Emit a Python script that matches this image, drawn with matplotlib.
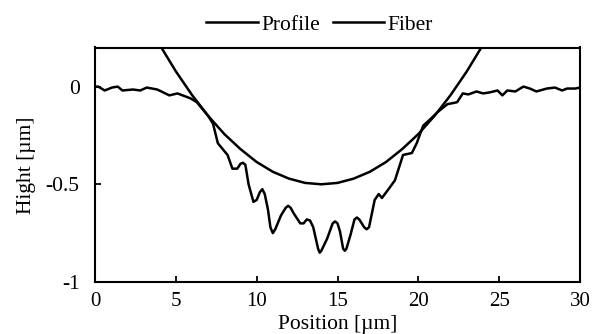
import numpy as np
import matplotlib
matplotlib.use('Agg')
import matplotlib.pyplot as plt

plt.rcParams['font.family'] = ['Liberation Serif', 'DejaVu Serif']

prof_x = [0, 0.2, 0.6, 1.05, 1.4, 1.7, 2.35, 2.8, 3.2, 3.85, 4.6, 5.1, 5.9, 6.3,
          7.0, 7.3, 7.6, 7.9, 8.2, 8.5, 8.8, 9.0, 9.15, 9.3, 9.5, 9.8, 10.0,
          10.2, 10.35, 10.5, 10.7, 10.85, 11.0, 11.15, 11.5, 11.8, 11.95, 12.1,
          12.3, 12.7, 12.9, 13.1, 13.3, 13.5, 13.8, 13.9, 14.0, 14.35, 14.7,
          14.85, 15.0, 15.15, 15.35, 15.45, 15.55, 15.8, 16.05, 16.2, 16.35,
          16.65, 16.8, 16.95, 17.3, 17.55, 17.75, 18.2, 18.55,
          18.9, 19.05, 19.6, 19.9, 20.3, 20.7, 21.2, 21.8, 22.4, 22.75, 23.1,
          23.6, 24.0, 24.4, 24.9, 25.2, 25.5, 26.0, 26.5, 26.9, 27.3, 27.95,
          28.45, 28.9, 29.2, 29.7, 30.0]
prof_y = [0, 0, -0.02, -0.005, 0, -0.02, -0.015, -0.02, -0.005, -0.015, -0.045,
          -0.035, -0.06, -0.08,
          -0.15, -0.19, -0.29, -0.32, -0.35, -0.42, -0.42, -0.395, -0.39,
          -0.40, -0.50, -0.59, -0.58,
          -0.54, -0.525, -0.55, -0.63, -0.72, -0.75, -0.73, -0.66, -0.62, -0.61,
          -0.62,
          -0.65, -0.70, -0.70, -0.68, -0.685, -0.72, -0.83, -0.85, -0.84, -0.78,
          -0.70,
          -0.69, -0.70, -0.74, -0.83, -0.84, -0.83, -0.76, -0.68, -0.67, -0.68,
          -0.72, -0.73, -0.72, -0.58, -0.55, -0.57, -0.52, -0.48,
          -0.39, -0.35, -0.34, -0.29, -0.20, -0.17, -0.13, -0.09, -0.08,
          -0.035, -0.04,
          -0.025, -0.035, -0.03, -0.02, -0.045, -0.02, -0.025, 0, -0.01,
          -0.025, -0.01,
          -0.005, -0.02, -0.01, -0.01, -0.005]

# fiber outline
fib_x = [3, 4, 5, 6, 7, 8, 9, 10, 11, 12, 13, 14, 15, 16, 17, 18, 19, 20, 21,
         22, 23, 24, 25]
fib_y = [0.364, 0.214, 0.078, -0.043, -0.15, -0.243, -0.32, -0.386, -0.436,
         -0.471, -0.493, -0.5, -0.493, -0.471, -0.436, -0.386, -0.32, -0.243,
         -0.15, -0.043, 0.078, 0.214, 0.364]

fig = plt.figure(figsize=(6.01, 3.34), dpi=100)
ax = fig.add_axes([95/601, 1-282/334, 485/601, 234.5/334])

ax.plot(prof_x, prof_y, color='black', lw=1.8, label='Profile',
        solid_joinstyle='round')
ax.plot(fib_x, fib_y, color='black', lw=1.8, label='Fiber')

ax.set_xlim(0, 30)
ax.set_ylim(-1, 0.2)
ax.set_xticks([0, 5, 10, 15, 20, 25, 30])
ax.set_yticks([-1, -0.5, 0])
ax.set_yticklabels(['-1', '-0.5', '0'])
ax.tick_params(direction='in', length=4.5, width=1.3, labelsize=15.5)
ax.tick_params(axis='x', pad=7, labelsize=15)
ax.tick_params(axis='y', pad=11)
for s in ax.spines.values():
    s.set_linewidth(1.5)

# x label sits at the very bottom of the figure
ax.set_xlabel('Position [µm]', fontsize=15.5, va='bottom')
ax.xaxis.set_label_coords(0.5 * (95 + 580) / 601, 0.0, transform=fig.transFigure)
ax.set_ylabel('Hight [µm]', fontsize=15.5, labelpad=7)

ax.legend(loc='lower center', bbox_to_anchor=(0.463, 1.0), ncol=2, frameon=False,
          fontsize=15.5, handlelength=2.4, handletextpad=0.15, columnspacing=0.6,
          borderaxespad=0.2)

fig.savefig('out.png', dpi=100)
